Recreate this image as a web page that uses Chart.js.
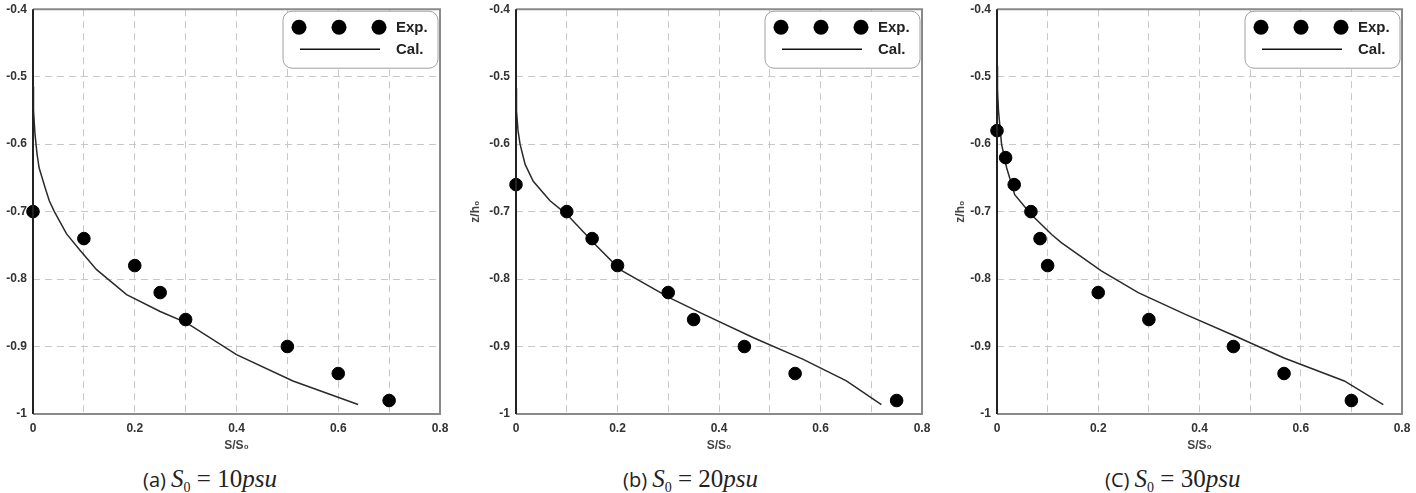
<!DOCTYPE html>
<html>
<head>
<meta charset="utf-8">
<script src="https://cdn.jsdelivr.net/npm/chart.js@4.4.1/dist/chart.umd.min.js"></script>
<style>
  body { margin: 0; background: #fff; width: 1416px; height: 493px; position: relative; overflow: hidden; }
  .panel { position: absolute; top: 0; }
  .cap { position: absolute; top: 466px; line-height: 26px; font-size: 20px; color: #222; white-space: nowrap; font-family: "Open Sans", "Liberation Sans", sans-serif; }
  .cap .m { font-family: "Liberation Serif", "DejaVu Serif", serif; font-size: 25px; }
  .cap .m sub { font-size: 14px; vertical-align: -5px; }
</style>
</head>
<body>
<div class="panel" style="left:0px"><canvas id="chartA" width="454" height="460"></canvas></div>
<div class="panel" style="left:468px"><canvas id="chartB" width="468" height="460"></canvas></div>
<div class="panel" style="left:953px"><canvas id="chartC" width="463" height="460"></canvas></div>

<div class="cap" style="left:143px">(a) <span class="m"><i>S</i><sub>0</sub> = 10<i>psu</i></span></div>
<div class="cap" style="left:623px">(b) <span class="m"><i>S</i><sub>0</sub> = 20<i>psu</i></span></div>
<div class="cap" style="left:1105px">(C) <span class="m"><i>S</i><sub>0</sub> = 30<i>psu</i></span></div>

<script>
// axes
const gridS = [0, 0.1, 0.2, 0.3, 0.4, 0.5, 0.6, 0.7, 0.8];
const tickS = [0, 0.2, 0.4, 0.6, 0.8];
const tickZ = [-1, -0.9, -0.8, -0.7, -0.6, -0.5, -0.4];

// (a) S0 = 10 psu
const s10ExpS = [0, 0.1, 0.2, 0.25, 0.3, 0.5, 0.6, 0.7];
const s10ExpZ = [-0.70, -0.74, -0.78, -0.82, -0.86, -0.90, -0.94, -0.98];
const s10CalS = [0, 0.001, 0.004, 0.008, 0.012, 0.024, 0.032, 0.042, 0.066, 0.092, 0.125, 0.184, 0.25, 0.302, 0.4, 0.511, 0.639];
const s10CalZ = [-0.515, -0.55, -0.586, -0.615, -0.635, -0.665, -0.684, -0.70, -0.733, -0.757, -0.786, -0.823, -0.848, -0.865, -0.912, -0.951, -0.986];

// (b) S0 = 20 psu
const s20ExpS = [0, 0.1, 0.15, 0.2, 0.3, 0.35, 0.45, 0.55, 0.75];
const s20ExpZ = [-0.66, -0.70, -0.74, -0.78, -0.82, -0.86, -0.90, -0.94, -0.98];
const s20CalS = [0, 0.001, 0.004, 0.008, 0.018, 0.034, 0.067, 0.1, 0.159, 0.205, 0.303, 0.369, 0.468, 0.566, 0.651, 0.72];
const s20CalZ = [-0.517, -0.551, -0.58, -0.60, -0.63, -0.655, -0.684, -0.704, -0.751, -0.786, -0.828, -0.852, -0.887, -0.919, -0.951, -0.986];

// (c) S0 = 30 psu
const s30ExpS = [0, 0.017, 0.034, 0.067, 0.085, 0.1, 0.2, 0.3, 0.467, 0.567, 0.7];
const s30ExpZ = [-0.58, -0.62, -0.66, -0.70, -0.74, -0.78, -0.82, -0.86, -0.90, -0.94, -0.98];
const s30CalS = [0, 0.001, 0.003, 0.009, 0.019, 0.035, 0.067, 0.108, 0.127, 0.206, 0.279, 0.371, 0.469, 0.567, 0.686, 0.763];
const s30CalZ = [-0.484, -0.52, -0.551, -0.60, -0.635, -0.675, -0.704, -0.734, -0.746, -0.788, -0.820, -0.852, -0.884, -0.917, -0.951, -0.986];

const tickFont = { family: '"Liberation Sans", Arial, sans-serif', size: 12, weight: 'bold' };
const fmt = v => String(Number(v.toFixed(1)));

// frame round the plot + the boxed legend in the top right corner
const frameLegend = {
    id: 'frameLegend',
    afterDraw(chart) {
        const { ctx, chartArea: a } = chart;
        ctx.save();
        ctx.lineWidth = 2;
        ctx.strokeStyle = '#8a8a8a';
        ctx.beginPath();
        ctx.moveTo(a.left, a.top); ctx.lineTo(a.right, a.top);
        ctx.lineTo(a.right, a.bottom); ctx.lineTo(a.left, a.bottom);
        ctx.stroke();
        ctx.strokeStyle = '#222';
        ctx.beginPath();
        ctx.moveTo(a.left, a.top); ctx.lineTo(a.left, a.bottom);
        ctx.stroke();

        const w = 155, h = 57, r = 9;
        const bx = a.right - 2 - w, by = a.top + 2;
        ctx.beginPath();
        ctx.moveTo(bx + r, by);
        ctx.arcTo(bx + w, by, bx + w, by + h, r);
        ctx.arcTo(bx + w, by + h, bx, by + h, r);
        ctx.arcTo(bx, by + h, bx, by, r);
        ctx.arcTo(bx, by, bx + w, by, r);
        ctx.closePath();
        ctx.fillStyle = '#fff';
        ctx.fill();
        ctx.lineWidth = 1;
        ctx.strokeStyle = '#a0a0a0';
        ctx.stroke();

        ctx.fillStyle = '#000';
        [16, 56, 96].forEach(dx => {
            ctx.beginPath();
            ctx.arc(bx + dx, by + 16, 7.5, 0, Math.PI * 2);
            ctx.fill();
        });
        ctx.strokeStyle = '#111';
        ctx.lineWidth = 1.5;
        ctx.beginPath();
        ctx.moveTo(bx + 17, by + 38); ctx.lineTo(bx + 97, by + 38);
        ctx.stroke();

        ctx.font = 'bold 15px "Liberation Sans", Arial, sans-serif';
        ctx.fillStyle = '#222';
        ctx.textBaseline = 'middle';
        ctx.fillText('Exp.', bx + 113, by + 17);
        ctx.fillText('Cal.', bx + 113, by + 39);
        ctx.restore();
    }
};

function makeChart(id, expS, expZ, calS, calZ, yWidth, showYTitle) {
    return new Chart(document.getElementById(id), {
        type: 'scatter',
        data: {
            datasets: [
                {
                    label: 'Exp.',
                    data: expS.map((s, i) => ({ x: s, y: expZ[i] })),
                    pointRadius: 6.3,
                    pointHoverRadius: 6.3,
                    backgroundColor: '#000',
                    borderColor: '#000',
                    clip: false
                },
                {
                    label: 'Cal.',
                    data: calS.map((s, i) => ({ x: s, y: calZ[i] })),
                    showLine: true,
                    borderColor: '#2a2a2a',
                    borderWidth: 1.5,
                    pointRadius: 0,
                    tension: 0
                }
            ]
        },
        options: {
            responsive: false,
            animation: false,
            layout: { padding: { top: 0, right: 14, bottom: 7, left: 0 } },
            plugins: { legend: { display: false }, tooltip: { enabled: false } },
            scales: {
                x: {
                    type: 'linear',
                    min: 0,
                    max: 0.8,
                    afterBuildTicks: s => { s.ticks = gridS.map(v => ({ value: v })); },
                    afterFit: s => { s.height = 39; },
                    grid: { color: '#c8c8c8', drawTicks: true, tickLength: 5, tickColor: 'rgba(0,0,0,0)' },
                    border: { display: false, dash: [7, 5] },
                    ticks: {
                        autoSkip: false,
                        maxRotation: 0,
                        padding: 2,
                        color: '#333',
                        font: tickFont,
                        callback: v => tickS.some(t => Math.abs(t - v) < 1e-6) ? fmt(v) : ''
                    },
                    title: { display: true, text: 'S/S₀', color: '#444', font: tickFont, padding: { top: 0, bottom: 0 } }
                },
                y: {
                    type: 'linear',
                    min: -1,
                    max: -0.4,
                    afterBuildTicks: s => { s.ticks = tickZ.map(v => ({ value: v })); },
                    afterFit: s => { s.width = yWidth; },
                    grid: { color: '#c8c8c8', drawTicks: true, tickLength: 4, tickColor: 'rgba(0,0,0,0)' },
                    border: { display: false, dash: [7, 5] },
                    ticks: { padding: 2, color: '#333', font: tickFont, callback: v => fmt(v) },
                    title: { display: showYTitle, text: 'z/h₀', color: '#444', font: tickFont, padding: { top: 0, bottom: 0 } }
                }
            }
        },
        plugins: [frameLegend]
    });
}

makeChart('chartA', s10ExpS, s10ExpZ, s10CalS, s10CalZ, 33, false);
makeChart('chartB', s20ExpS, s20ExpZ, s20CalS, s20CalZ, 48, true);
makeChart('chartC', s30ExpS, s30ExpZ, s30CalS, s30CalZ, 44, true);
</script>
</body>
</html>
